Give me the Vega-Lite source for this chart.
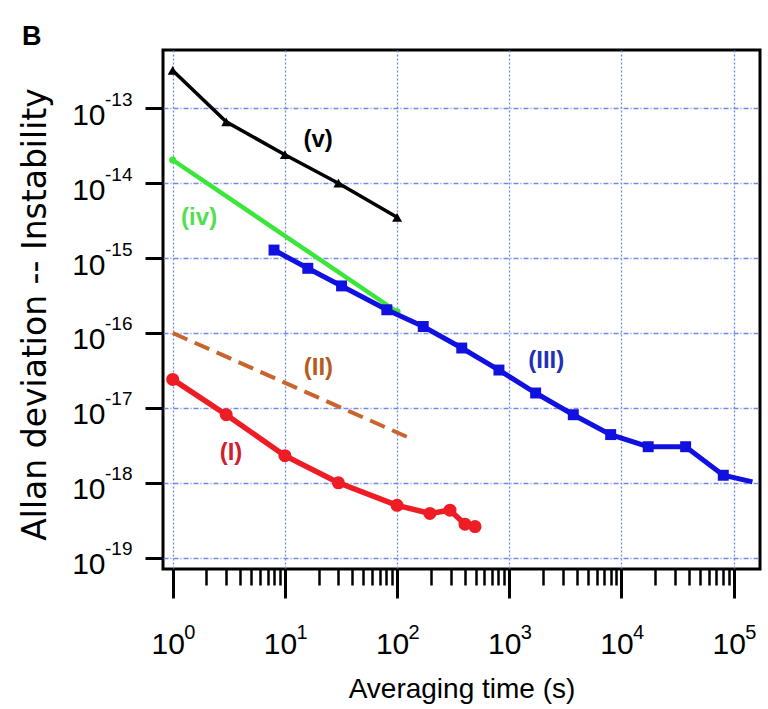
{
  "$schema": "https://vega.github.io/schema/vega-lite/v6.json",
  "width": 597,
  "height": 519,
  "autosize": "none",
  "padding": {"left": 163, "top": 50, "right": 8, "bottom": 140},
  "background": "white",
  "title": {"text": "B", "anchor": "start", "frame": "group", "dx": -141, "dy": 27, "offset": 5, "baseline": "alphabetic", "font": "Liberation Sans", "fontSize": 27, "fontWeight": "bold", "color": "#000"},
  "config": {
    "view": {"stroke": "#000", "strokeWidth": 3},
    "axis": {"labelColor": "#000", "tickColor": "#000", "titleColor": "#000", "labelFont": "Liberation Sans", "titleFont": "Liberation Sans", "labelFlush": false, "labelOverlap": false, "labelBound": false}
  },
  "datasets": {
    "pts": [
      {"s": "v", "x": 1, "y": 3.2e-13, "m": 1},
      {"s": "v", "x": 3, "y": 6.6e-14, "m": 1},
      {"s": "v", "x": 10, "y": 2.4e-14, "m": 1},
      {"s": "v", "x": 30, "y": 1.0e-14, "m": 1},
      {"s": "v", "x": 100, "y": 3.5e-15, "m": 1},
      {"s": "iv", "x": 1, "y": 2.04e-14, "m": 1},
      {"s": "iv", "x": 100, "y": 1.92e-16, "m": 1},
      {"s": "III", "x": 8, "y": 1.28e-15, "m": 1},
      {"s": "III", "x": 16, "y": 7.3e-16, "m": 1},
      {"s": "III", "x": 32, "y": 4.25e-16, "m": 1},
      {"s": "III", "x": 81, "y": 2.04e-16, "m": 1},
      {"s": "III", "x": 171, "y": 1.22e-16, "m": 1},
      {"s": "III", "x": 377, "y": 6.3e-17, "m": 1},
      {"s": "III", "x": 809, "y": 3.2e-17, "m": 1},
      {"s": "III", "x": 1718, "y": 1.58e-17, "m": 1},
      {"s": "III", "x": 3720, "y": 8.1e-18, "m": 1},
      {"s": "III", "x": 8010, "y": 4.4e-18, "m": 1},
      {"s": "III", "x": 17300, "y": 3.03e-18, "m": 1},
      {"s": "III", "x": 37300, "y": 3.03e-18, "m": 1},
      {"s": "III", "x": 80800, "y": 1.26e-18, "m": 1},
      {"s": "III", "x": 147000, "y": 1.03e-18, "m": 0},
      {"s": "I", "x": 1, "y": 2.4e-17, "m": 1},
      {"s": "I", "x": 3, "y": 8.1e-18, "m": 1},
      {"s": "I", "x": 10, "y": 2.3e-18, "m": 1},
      {"s": "I", "x": 30, "y": 1.0e-18, "m": 1},
      {"s": "I", "x": 100, "y": 5.0e-19, "m": 1},
      {"s": "I", "x": 196, "y": 3.9e-19, "m": 1},
      {"s": "I", "x": 296, "y": 4.3e-19, "m": 1},
      {"s": "I", "x": 403, "y": 2.8e-19, "m": 1},
      {"s": "I", "x": 495, "y": 2.6e-19, "m": 1},
      {"s": "II", "x": 1, "y": 1.0e-16, "m": 0},
      {"s": "II", "x": 142, "y": 3.72e-18, "m": 0}
    ],
    "labels": [
      {"s": "v", "t": "(v)", "x": 19.8, "y": 3.78e-14},
      {"s": "iv", "t": "(iv)", "x": 1.72, "y": 3.48e-15},
      {"s": "III", "t": "(III)", "x": 2134, "y": 4.23e-17},
      {"s": "II", "t": "(II)", "x": 19.9, "y": 3.36e-17},
      {"s": "I", "t": "(I)", "x": 3.31, "y": 2.46e-18}
    ]
  },
  "encoding": {
    "x": {"field": "x", "type": "quantitative", "scale": {"type": "log", "domain": [0.8196, 171600], "nice": false}, "axis": null},
    "y": {"field": "y", "type": "quantitative", "scale": {"type": "log", "domain": [7.06e-20, 6.0e-13], "nice": false}, "axis": null}
  },
  "resolve": {"axis": {"x": "independent", "y": "independent"}},
  "layer": [
    {
      "data": {"name": "pts"},
      "transform": [{"filter": "datum.s == 'v'"}],
      "mark": {"type": "line", "color": "#000000", "strokeWidth": 3.5},
      "encoding": {
        "x": {"field": "x", "type": "quantitative", "scale": {"type": "log", "domain": [0.8196, 171600], "nice": false},
          "axis": {"orient": "bottom", "values": [1, 10, 100, 1000, 10000, 100000], "labelExpr": "'10'", "tickSize": 29, "tickWidth": 3, "domain": false, "grid": true, "gridColor": "#6f8ae8", "gridDash": [2, 2], "gridWidth": 1.3, "labelFontSize": 30, "labelPadding": 31, "labelOffset": -5, "labelAlign": "center", "labelBaseline": "top", "title": "Averaging time (s)", "titleFontSize": 28, "titleFontWeight": "normal", "titleBaseline": "alphabetic", "titleY": 128}},
        "y": {"field": "y", "type": "quantitative", "scale": {"type": "log", "domain": [7.06e-20, 6.0e-13], "nice": false},
          "axis": {"orient": "left", "values": [1e-19, 1e-18, 1e-17, 1e-16, 1e-15, 1e-14, 1e-13], "labelExpr": "'10'", "tickSize": 18, "tickWidth": 3, "domain": false, "grid": true, "gridColor": "#6f8ae8", "gridDash": [5, 2, 1, 2], "gridWidth": 1.3, "labelFontSize": 30, "labelPadding": 40, "labelOffset": 7, "labelAlign": "right", "labelBaseline": "middle", "title": "Allan deviation -- Instability", "titleFont": "DejaVu Sans", "titleFontSize": 33, "titleFontWeight": "normal", "titleAngle": 270, "titleBaseline": "alphabetic", "titleAlign": "center", "titleX": -118, "titleY": 264}}
      }
    },
    {
      "data": {"name": "pts"},
      "transform": [{"filter": "datum.s == 'v'"}],
      "mark": {"type": "point", "shape": "triangle-up", "filled": true, "color": "#000000", "size": 100, "opacity": 1},
      "encoding": {
        "x": {"field": "x", "type": "quantitative", "scale": {"type": "log", "domain": [0.8196, 171600], "nice": false},
          "axis": {"orient": "bottom", "values": [1, 10, 100, 1000, 10000, 100000], "labelExpr": "'' + round(log(datum.value) / LN10)", "ticks": false, "domain": false, "grid": false, "labelFontSize": 20, "labelPadding": 53, "labelOffset": 11, "labelAlign": "left", "labelBaseline": "top", "title": null}},
        "y": {"field": "y", "type": "quantitative", "scale": {"type": "log", "domain": [7.06e-20, 6.0e-13], "nice": false},
          "axis": {"orient": "left", "values": [1e-19, 1e-18, 1e-17, 1e-16, 1e-15, 1e-14, 1e-13], "labelExpr": "'' + round(log(datum.value) / LN10)", "ticks": false, "domain": false, "grid": false, "labelFontSize": 19, "labelPadding": 31, "labelOffset": -9, "labelAlign": "right", "labelBaseline": "middle", "title": null}}
      }
    },
    {
      "data": {"name": "pts"},
      "transform": [{"filter": "datum.s == 'iv'"}],
      "mark": {"type": "line", "color": "#3be63b", "strokeWidth": 4.5},
      "encoding": {
        "x": {"field": "x", "type": "quantitative", "scale": {"type": "log", "domain": [0.8196, 171600], "nice": false},
          "axis": {"orient": "bottom", "values": [2, 3, 4, 5, 6, 7, 8, 9, 20, 30, 40, 50, 60, 70, 80, 90, 200, 300, 400, 500, 600, 700, 800, 900, 2000, 3000, 4000, 5000, 6000, 7000, 8000, 9000, 20000, 30000, 40000, 50000, 60000, 70000, 80000, 90000], "labels": false, "tickSize": 16, "tickWidth": 2.5, "domain": false, "grid": false, "title": null}}
      }
    },
    {
      "data": {"name": "pts"},
      "transform": [{"filter": "datum.s == 'iv'"}],
      "mark": {"type": "point", "shape": "circle", "filled": true, "color": "#3be63b", "size": 50, "opacity": 1}
    },
    {
      "data": {"name": "pts"},
      "transform": [{"filter": "datum.s == 'II'"}],
      "mark": {"type": "line", "color": "#c8642c", "strokeWidth": 4, "strokeDash": [16, 8]}
    },
    {
      "data": {"name": "pts"},
      "transform": [{"filter": "datum.s == 'III'"}],
      "mark": {"type": "line", "color": "#1010e0", "strokeWidth": 5}
    },
    {
      "data": {"name": "pts"},
      "transform": [{"filter": "datum.s == 'III' && datum.m == 1"}],
      "mark": {"type": "point", "shape": "square", "filled": true, "color": "#1010e0", "size": 120, "opacity": 1}
    },
    {
      "data": {"name": "pts"},
      "transform": [{"filter": "datum.s == 'I'"}],
      "mark": {"type": "line", "color": "#ee1c25", "strokeWidth": 5.5}
    },
    {
      "data": {"name": "pts"},
      "transform": [{"filter": "datum.s == 'I'"}],
      "mark": {"type": "point", "shape": "circle", "filled": true, "color": "#ee1c25", "size": 170, "opacity": 1}
    },
    {
      "data": {"name": "labels"},
      "mark": {"type": "text", "font": "Liberation Sans", "fontSize": 24, "fontWeight": "bold", "align": "center", "baseline": "middle"},
      "encoding": {
        "text": {"field": "t", "type": "nominal"},
        "color": {"field": "s", "type": "nominal", "scale": {"domain": ["v", "iv", "III", "II", "I"], "range": ["#000000", "#4fe04f", "#2030b8", "#b85a22", "#d02030"]}, "legend": null}
      }
    }
  ]
}
